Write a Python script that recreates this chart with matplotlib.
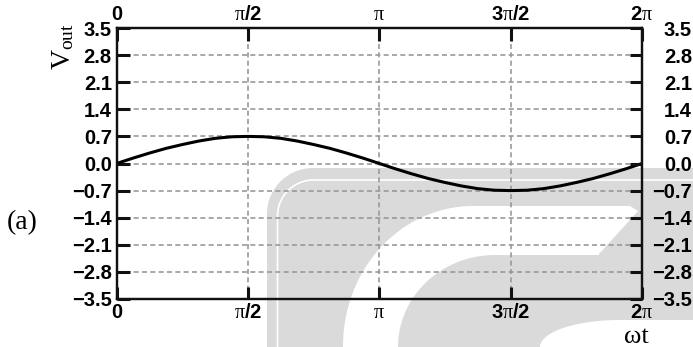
import numpy as np
import matplotlib.pyplot as plt
from matplotlib.patches import Polygon
from matplotlib.lines import Line2D

# phase (in units of pi) and output voltage
phase = [i / 16 for i in range(33)]
vout = [0.00, 0.14, 0.27, 0.39, 0.49, 0.58, 0.65, 0.69, 0.70, 0.69, 0.65, 0.58, 0.49, 0.39, 0.27, 0.14,
        0.00, -0.14, -0.27, -0.39, -0.49, -0.58, -0.65, -0.69, -0.70, -0.69, -0.65, -0.58, -0.49, -0.39,
        -0.27, -0.14, 0.00]

# axis ticks and labels
y_ticks = [3.5, 2.8, 2.1, 1.4, 0.7, 0.0, -0.7, -1.4, -2.1, -2.8, -3.5]
y_labels = ['3.5', '2.8', '2.1', '1.4', '0.7', '0.0', '\u22120.7', '\u22121.4', '\u22122.1', '\u22122.8', '\u22123.5']
x_ticks = [0, 0.5, 1.0, 1.5, 2.0]
x_labels = [r'$\mathbf{0}$', r'$\pi\mathbf{/2}$', r'$\pi$', r'$\mathbf{3}\pi\mathbf{/2}$', r'$\mathbf{2}\pi$']

plt.rcParams['font.family'] = 'Liberation Sans'
plt.rcParams['mathtext.fontset'] = 'custom'
plt.rcParams['mathtext.rm'] = 'Liberation Serif'
plt.rcParams['mathtext.it'] = 'Liberation Serif'
plt.rcParams['mathtext.bf'] = 'Liberation Sans:bold'

W, H = 693, 347
fig = plt.figure(figsize=(W / 100, H / 100), dpi=100)


# convert pixel positions (from top-left) to figure fractions
def to_fig(pts):
    return [(x / W, 1 - y / H) for x, y in pts]


# rounded top-left corner outline, in pixels
def corner(x0, y0, rx, ry, n=40):
    t = np.linspace(np.pi, np.pi / 2, n)
    cx, cy = x0 + rx, y0 + ry
    return [(cx + rx * np.cos(a), cy - ry * np.sin(a)) for a in t]


# background watermark
grey = '#dadada'
outer = [(267, 347)] + corner(267, 168, 46, 46) + [(693, 168), (693, 347)]
fig.add_artist(Polygon(to_fig(outer), closed=True, fc=grey, ec='none', transform=fig.transFigure, zorder=-2))
line = [(277.5, 347)] + corner(277.5, 180, 36, 36) + [(693, 180)]
lx, ly = zip(*to_fig(line))
fig.add_artist(Line2D(lx, ly, color='white', lw=1.2, transform=fig.transFigure, zorder=-2))
band = [(343, 347)] + corner(343, 206, 130, 140) + [(630, 206), (638, 211), (599, 254), (599, 347)]
fig.add_artist(Polygon(to_fig(band), closed=True, fc='white', ec='none', transform=fig.transFigure, zorder=-2))
inner = [(398, 347)] + corner(398, 255, 97, 92) + [(693, 255), (693, 347)]
fig.add_artist(Polygon(to_fig(inner), closed=True, fc=grey, ec='none', transform=fig.transFigure, zorder=-2))
cut = [(540, 347)] + corner(540, 320, 80, 27) + [(693, 320), (693, 347)]
fig.add_artist(Polygon(to_fig(cut), closed=True, fc='white', ec='none', transform=fig.transFigure, zorder=-2))

ax = fig.add_axes([116.7 / W, 1 - 299 / H, (642 - 116.7) / W, (299 - 28) / H])
ax.set_facecolor('none')
ax.plot(phase, vout, color='black', lw=2.2, zorder=3)

ax.set_xlim(0, 2)
ax.set_ylim(-3.5, 3.5)
ax.set_xticks(x_ticks)
ax.set_xticklabels(x_labels, fontsize=14.5)
ax.set_yticks(y_ticks)
ax.set_yticklabels(y_labels, fontsize=14.5, fontweight='bold')
ax.grid(True, ls=(0, (3, 2)), color='#999999', lw=1.2)
ax.tick_params(axis='both', direction='in', length=9, width=2.2, color='#111111')
ax.tick_params(axis='x', top=True, labeltop=True, pad=3)
ax.tick_params(axis='y', pad=3.5)
for s in ax.spines.values():
    s.set_linewidth(1.6)
    s.set_color('#111111')

# right side labels, right aligned at the edge
ax2 = ax.twinx()
ax2.set_ylim(-3.5, 3.5)
ax2.set_yticks(y_ticks)
ax2.set_yticklabels(y_labels, fontsize=14.5, fontweight='bold')
ax2.tick_params(axis='y', direction='in', length=9, width=2.2, color='#111111', pad=36)
for lab in ax2.get_yticklabels():
    lab.set_ha('right')
for s in ax2.spines.values():
    s.set_linewidth(1.6)
    s.set_color('#111111')

fig.text(63 / W, 1 - 46 / H, r'V$_{\rm out}$', rotation=90, family='Liberation Serif', fontsize=20,
         ha='center', va='center')
fig.text(22 / W, 1 - 223 / H, '(a)', family='Liberation Serif', fontsize=20, ha='center', va='center')
fig.text(636 / W, 1 - 337 / H, '\u03c9t', family='Liberation Serif', fontsize=19, ha='center', va='center')

fig.savefig('out.png', dpi=100)
